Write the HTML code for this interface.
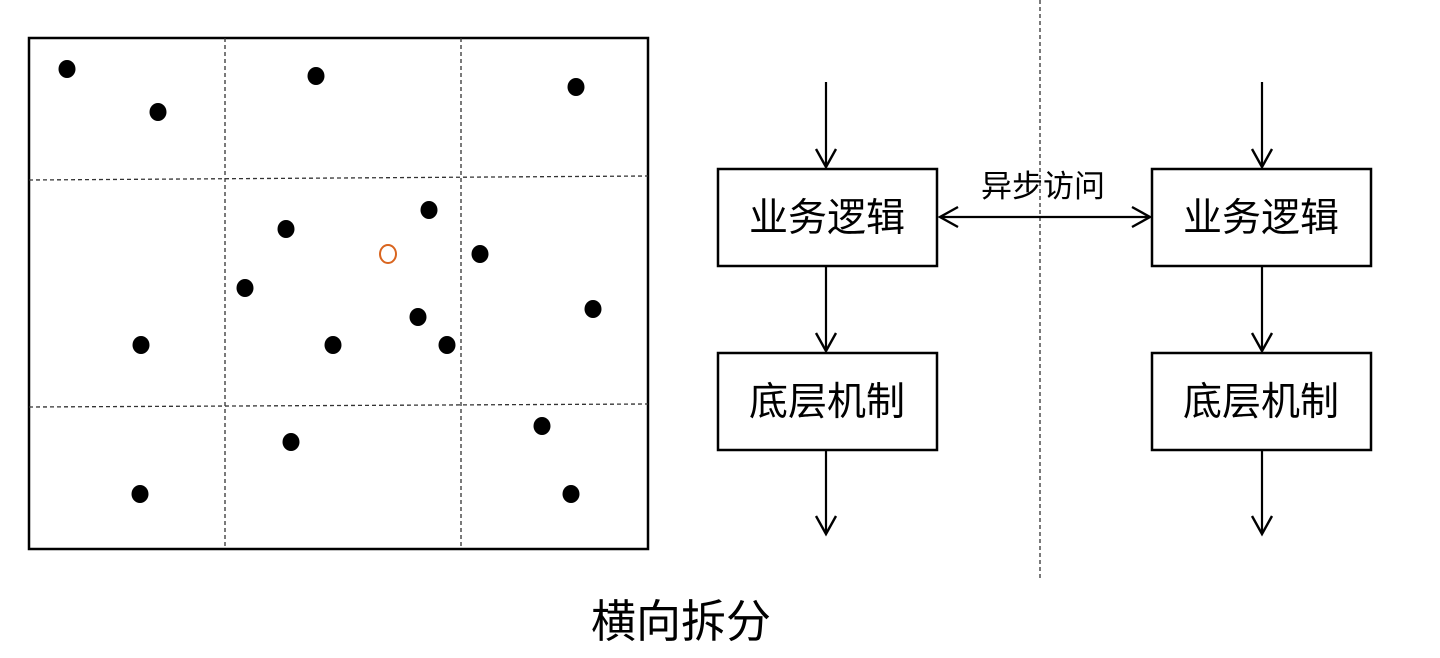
<!DOCTYPE html>
<html><head><meta charset="utf-8"><style>
html,body{margin:0;padding:0;background:#fff;}
svg{display:block;}
text{font-family:"Liberation Sans","Noto Sans CJK SC",sans-serif;fill:#000;}
</style></head><body>
<svg width="1440" height="658" viewBox="0 0 1440 658" xmlns="http://www.w3.org/2000/svg">
<defs>
<marker id="a" markerWidth="24" markerHeight="24" refX="19" refY="12" orient="auto-start-reverse" markerUnits="userSpaceOnUse">
<path d="M1,2 L19,12 L1,22" fill="none" stroke="#000" stroke-width="2.4"/>
</marker>
</defs>
<rect x="29" y="38" width="619" height="511" fill="none" stroke="#000" stroke-width="2.5"/>
<g stroke="#333" stroke-width="1.3" stroke-dasharray="4,3" fill="none">
<line x1="225" y1="38" x2="225" y2="549"/>
<line x1="461" y1="38" x2="461" y2="549"/>
<line x1="29" y1="180" x2="648" y2="176"/>
<line x1="29" y1="407" x2="648" y2="404"/>
</g>
<g fill="#000">
<ellipse cx="67" cy="69" rx="8.5" ry="9"/>
<ellipse cx="158" cy="112" rx="8.5" ry="9"/>
<ellipse cx="316" cy="76" rx="8.5" ry="9"/>
<ellipse cx="576" cy="87" rx="8.5" ry="9"/>
<ellipse cx="429" cy="210" rx="8.5" ry="9"/>
<ellipse cx="286" cy="229" rx="8.5" ry="9"/>
<ellipse cx="480" cy="254" rx="8.5" ry="9"/>
<ellipse cx="245" cy="288" rx="8.5" ry="9"/>
<ellipse cx="593" cy="309" rx="8.5" ry="9"/>
<ellipse cx="418" cy="317" rx="8.5" ry="9"/>
<ellipse cx="141" cy="345" rx="8.5" ry="9"/>
<ellipse cx="333" cy="345" rx="8.5" ry="9"/>
<ellipse cx="447" cy="345" rx="8.5" ry="9"/>
<ellipse cx="542" cy="426" rx="8.5" ry="9"/>
<ellipse cx="291" cy="442" rx="8.5" ry="9"/>
<ellipse cx="140" cy="494" rx="8.5" ry="9"/>
<ellipse cx="571" cy="494" rx="8.5" ry="9"/>
</g>
<ellipse cx="388" cy="254" rx="8" ry="9" fill="none" stroke="#d9651f" stroke-width="2"/>
<line x1="1040" y1="0" x2="1040" y2="578" stroke="#333" stroke-width="1.3" stroke-dasharray="4,3"/>
<g fill="#fff" stroke="#000" stroke-width="2.5">
<rect x="718" y="169" width="219" height="97"/>
<rect x="718" y="353" width="219" height="97"/>
<rect x="1152" y="169" width="219" height="97"/>
<rect x="1152" y="353" width="219" height="97"/>
</g>
<g font-size="39" text-anchor="middle">
<text x="827" y="231">业务逻辑</text>
<text x="827" y="415">底层机制</text>
<text x="1261" y="231">业务逻辑</text>
<text x="1261" y="415">底层机制</text>
</g>
<g stroke="#000" stroke-width="2.2" marker-end="url(#a)">
<line x1="826" y1="82" x2="826" y2="167"/>
<line x1="826" y1="267" x2="826" y2="351"/>
<line x1="826" y1="451" x2="826" y2="534"/>
<line x1="1262" y1="82" x2="1262" y2="167"/>
<line x1="1262" y1="267" x2="1262" y2="351"/>
<line x1="1262" y1="451" x2="1262" y2="534"/>
<line x1="940" y1="217" x2="1150" y2="217" marker-start="url(#a)"/>
</g>
<text x="1043" y="197" font-size="31" text-anchor="middle">异步访问</text>
<text x="681" y="637" font-size="45" text-anchor="middle">横向拆分</text>
</svg>
</body></html>
